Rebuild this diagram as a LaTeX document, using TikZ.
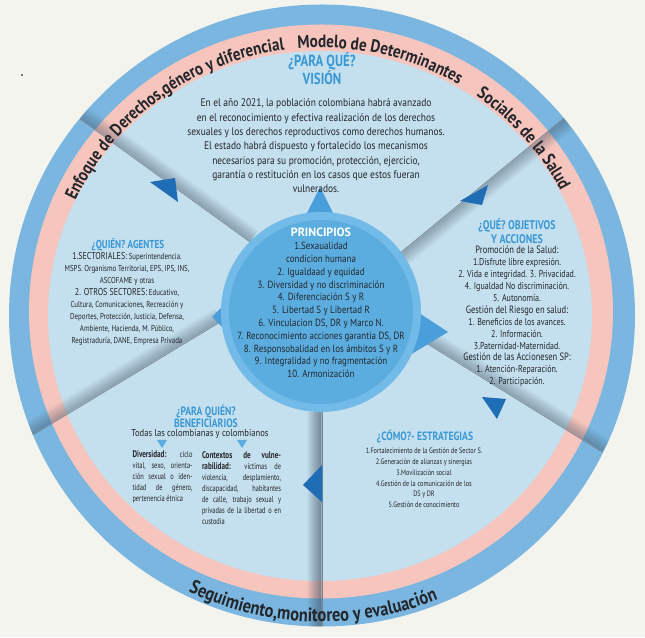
\documentclass[tikz,border=0pt]{standalone}
\usepackage{fontspec}
\setmainfont{PT Sans}
\newfontfamily\cnd[FakeStretch=0.86]{PT Sans}
\newfontfamily\cndx[FakeStretch=0.8]{PT Sans}
\newfontfamily\cndy[FakeStretch=0.74]{PT Sans}
\newfontfamily\arcf[FakeStretch=0.85]{PT Sans}
\usetikzlibrary{calc,decorations.text}
\definecolor{bgc}{HTML}{F4F4EF}
\definecolor{ringblue}{HTML}{7AB6E0}
\definecolor{ringpink}{HTML}{F6C5BE}
\definecolor{innerc}{HTML}{C4DFED}
\definecolor{princ}{HTML}{5BADE0}
\definecolor{princring}{HTML}{72BAE7}
\definecolor{pointc}{HTML}{4A9FDA}
\definecolor{headc}{HTML}{3A98D5}
\definecolor{txt}{HTML}{23262B}
\definecolor{navy}{HTML}{1F6DB5}
\definecolor{shadowc}{HTML}{3D4E5E}
\begin{document}
\begin{tikzpicture}[x=1pt,y=1pt,
  headtxt/.style={text=headc, font=\cndx\bfseries\fontsize{11}{13}\selectfont, align=center, inner sep=0},
  bodytxt/.style={text=txt, align=center, inner sep=0},
  pointer/.style={fill=navy, draw=none},
  midpointer/.style={fill=pointc, draw=none},
  smalltri/.style={fill=princ, draw=none},
  coltxt/.style={text=txt, inner sep=0, align=justify, font=\cndy\fontsize{8.6}{11}\selectfont}]
\useasboundingbox (0,0) rectangle (645,637);
\fill[bgc] (0,0) rectangle (645,637);
\fill[black] (22,562) circle (0.8);
% rings
\fill[ringblue] (322,321.5) ellipse [x radius=313, y radius=311];
\fill[ringpink] (321,325.5) ellipse [x radius=292, y radius=287];
\fill[innerc] (320,321) ellipse [x radius=272, y radius=265];
% dividers with shadows
\begin{scope}
\clip (322,321.5) ellipse [x radius=313, y radius=311];
\foreach \ax/\ay/\bx/\by/\s/\t in {80/518/250/395/90/-90, 564/519/400/384/90/-90, 602/185/418/299/-90/90, 322/10/322/225/90/-90, 33/202/222/316/90/-90}{
  \coordinate (A) at (\ax,\ay);
  \coordinate (B) at (\bx,\by);
  \foreach \k in {1,...,14}{
    \pgfmathsetmacro\op{0.36*(1-\k/15)}
    \draw[shadowc, line width=1.2pt, draw opacity=\op] ($(A)!\k pt!\s:(B)$) -- ($(B)!\k pt!\t:(A)$);
  }
  \draw[shadowc!70, line width=0.6pt] (A) -- (B);
}
\end{scope}
% dark pointers
\fill[pointer] (150,455) -- (175,459) -- (178,435) -- cycle;
\fill[pointer] (488,452) -- (460,436) -- (482,432) -- cycle;
\fill[pointer] (482,240) -- (506,238) -- (497,218) -- cycle;
\fill[pointer] (322,172) -- (303,152) -- (322,135) -- cycle;
% principios circle with pointers
\fill[midpointer] (304,418) -- (320,450) -- (336,418) -- cycle;
\fill[midpointer] (232,300) -- (212,320) -- (232,340) -- cycle;
\fill[midpointer] (410,282) -- (448,305) -- (410,330) -- cycle;
\fill[princring] (321,325) circle (100);
\fill[princ] (321,325) circle (92);
% curved texts
\path[decorate, decoration={text along path, text align=center, text color=txt,
  text={|\arcf\bfseries\fontsize{17.8}{17.8}\selectfont|Enfoque de Derechos,género y diferencial}}]
  (320.5,325.5) ++(163.5:270 and 264) arc[start angle=163.5, end angle=89.5, x radius=270, y radius=264];
\path[decorate, decoration={text along path, text align=center, text color=txt,
  text={|\arcf\bfseries\fontsize{17.8}{17.8}\selectfont|Modelo de Determinantes}}]
  (320.5,325.5) ++(101.5:270 and 264) arc[start angle=101.5, end angle=52.5, x radius=270, y radius=264];
\path[decorate, decoration={text along path, text align=center, text color=txt,
  text={|\arcf\bfseries\fontsize{17.8}{17.8}\selectfont|Sociales de la Salud}}]
  (320.5,325.5) ++(62:270 and 264) arc[start angle=62, end angle=20, x radius=270, y radius=264];
\path[decorate, decoration={text along path, text align=center, text color=txt,
  text={|\arcf\bfseries\fontsize{19.3}{19.3}\selectfont|Seguimiento,monitoreo y evaluación}}]
  (322,321.5) ++(238:308 and 306.5) arc[start angle=238, end angle=298.4, x radius=308, y radius=306.5];
% Vision
\node[headtxt, font=\cndx\bfseries\fontsize{16}{18}\selectfont] (vh) at (322,568) {¿PARA QUÉ?\\VISIÓN};
\node[bodytxt, font=\cnd\fontsize{11}{14.3}\selectfont] (vt) at (316,491) {En el año 2021, la población colombiana habrá avanzado\\en el reconocimiento y efectiva realización de los derechos\\sexuales y los derechos reproductivos como derechos humanos.\\El estado habrá dispuesto y fortalecido los mecanismos\\necesarios para su promoción, protección, ejercicio,\\garantía o restitución en los casos que estos fueran\\vulnerados.};
% Principios
\node[inner sep=0, text=white, font=\bfseries\fontsize{12}{12}\selectfont] (ph) at (321,405) {PRINCIPIOS};
\node[bodytxt, font=\cnd\fontsize{10.4}{12.8}\selectfont] (pl) at (321,327) {1.Sexaualidad\\condicion humana\\2. Igualdaad y equidad\\3. Diversidad y no discriminación\\4. Diferenciación S y R\\5. Libertad S y Libertad R\\6. Vinculacion DS, DR y Marco N.\\7. Reconocimiento acciones garantía DS, DR\\8. Responsobalidad en los ámbitos S y R\\9. Integralidad y no fragmentación\\10. Armonización};
% Quien
\node[headtxt, font=\cndx\bfseries\fontsize{11.5}{13}\selectfont] (qh) at (128,392) {¿QUIÉN? AGENTES};
\node[bodytxt, font=\cndx\fontsize{8.6}{12}\selectfont] (qt) at (127,338) {{\fontsize{10}{12}\selectfont 1.SECTORIALES:} Superintendencia.\\MSPS. Organismo Territorial, EPS, IPS, INS,\\ASCOFAME y otras\\{\fontsize{10}{12}\selectfont 2. OTROS SECTORES:} Educativo,\\Cultura, Comunicaciones, Recreación y\\Deportes, Protección, Justicia, Defensa,\\Ambiente, Hacienda, M. Público,\\Registraduría, DANE, Empresa Privada};
% Objetivos
\node[headtxt, font=\cndx\bfseries\fontsize{12.5}{14}\selectfont] (oh) at (517,406) {¿QUÉ? OBJETIVOS\\Y ACCIONES};
\node[bodytxt, font=\cndx\fontsize{10}{11.9}\selectfont] (ot) at (517,320.5) {{\fontsize{10.6}{11.9}\selectfont Promoción de la Salud:}\\1.Disfrute libre expresión.\\2. Vida e integridad. 3. Privacidad.\\4. Igualdad No discriminación.\\5. Autonomía.\\{\fontsize{10.6}{11.9}\selectfont Gestión del Riesgo en salud:}\\1. Beneficios de los avances.\\2. Información.\\3.Paternidad-Maternidad.\\{\fontsize{10.6}{11.9}\selectfont Gestión de las Accionesen SP:}\\1. Atención-Reparación.\\2. Participación.};
% Para quien
\node[headtxt, font=\cndx\bfseries\fontsize{12}{12.5}\selectfont] (bh) at (206,220.5) {¿PARA QUIÉN?\\BENEFICIARIOS};
\node[bodytxt, font=\cnd\fontsize{10}{12}\selectfont] (bt) at (200,203) {Todas las colombianas y colombianos};
\fill[smalltri] (157,197) -- (167,197) -- (162,189) -- cycle;
\fill[smalltri] (237,197) -- (247,197) -- (242,189) -- cycle;
\node[coltxt, text width=60pt] (bl) at (162.5,160) {{\fontsize{9.6}{11}\selectfont\bfseries Diversidad:} ciclo\linebreak vital, sexo, orienta-\linebreak ción sexual o iden-\linebreak tidad de género,\linebreak pertenencia étnica};
\node[coltxt, text width=79pt] (br) at (241.5,148.5) {{\fontsize{9.6}{11}\selectfont\bfseries Contextos de vulne-}\linebreak {\fontsize{9.6}{11}\selectfont\bfseries rabilidad:} víctimas de\linebreak violencia, desplamiento,\linebreak discapacidad, habitantes\linebreak de calle, trabajo sexual y\linebreak privadas de la libertad o en\linebreak custodia};
% Como
\node[headtxt, font=\cndx\bfseries\fontsize{12}{13}\selectfont] (ch) at (425,200) {¿CÓMO?- ESTRATEGIAS};
\node[bodytxt, font=\cndx\fontsize{7.8}{10.8}\selectfont] (ct) at (424,159) {1.Fortalecimiento de la Gestión de Sector S.\\2.Generación de alianzas y sinergias\\3.Movilización social\\4.Gestión de la comunicación de los\\DS y DR\\5.Gestión de conocimiento};
\end{tikzpicture}
\end{document}
